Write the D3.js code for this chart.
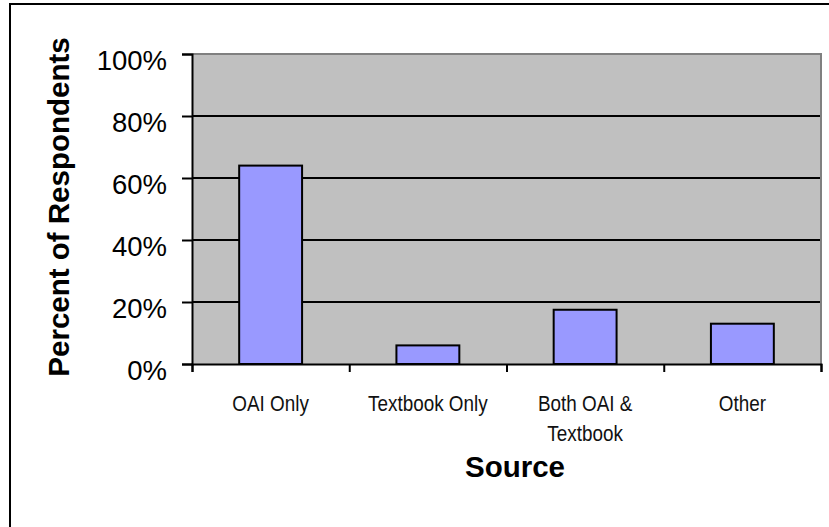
<!DOCTYPE html>
<html>
<head>
<meta charset="utf-8">
<script src="https://d3js.org/d3.v7.min.js"></script>
<style>
  body { margin: 0; background: #fff; }
  svg { display: block; }
</style>
</head>
<body>
<div id="chart"></div>
<script>
// ===========Data
var sources = ["OAI Only", "Textbook Only", "Both OAI & Textbook", "Other"];
var sourceLines = [["OAI Only"], ["Textbook Only"], ["Both OAI &", "Textbook"], ["Other"]];
var percents = [0.64, 0.06, 0.175, 0.13];
var yTicks = [0, 0.2, 0.4, 0.6, 0.8, 1.0];

// ===========Set Height, Width and Margins
var svgWidth = 829;
var svgHeight = 527;
var margin = { top: 54, right: 8, bottom: 163, left: 192 };
var width = svgWidth - margin.left - margin.right;
var height = svgHeight - margin.top - margin.bottom;

var svg = d3.select("#chart").append("svg")
    .attr("width", svgWidth)
    .attr("height", svgHeight);

// outer chart border (right and bottom edges fall outside the picture)
svg.append("rect")
    .attr("x", 10)
    .attr("y", 4)
    .attr("width", 840)
    .attr("height", 540)
    .attr("fill", "none")
    .attr("stroke", "#000")
    .attr("stroke-width", 2);

var chartGroup = svg.append("g")
    .attr("transform", `translate(${margin.left}, ${margin.top})`);

// ===========Scales
var xScale = d3.scaleBand()
    .domain(sources)
    .range([0, width])
    .paddingInner(0.6)
    .paddingOuter(0.3);

var xTickScale = d3.scaleLinear()
    .domain([0, sources.length])
    .range([0, width]);

var yScale = d3.scaleLinear()
    .domain([0, 1])
    .range([height, 0]);

// ===========Plot area
chartGroup.append("rect")
    .attr("width", width)
    .attr("height", height)
    .attr("fill", "#c0c0c0");

// gridlines
chartGroup.selectAll(".grid")
    .data(yTicks.filter(d => d > 0 && d < 1))
    .enter()
    .append("line")
    .attr("x1", 0)
    .attr("x2", width)
    .attr("y1", d => yScale(d))
    .attr("y2", d => yScale(d))
    .attr("stroke", "#000")
    .attr("stroke-width", 2);

// plot border top / right (gray)
chartGroup.append("path")
    .attr("d", `M0,0H${width}V${height}`)
    .attr("fill", "none")
    .attr("stroke", "#808080")
    .attr("stroke-width", 2);

// ===========Bars
chartGroup.selectAll(".bar")
    .data(percents)
    .enter()
    .append("rect")
    .attr("x", (d, i) => xScale(sources[i]))
    .attr("y", d => yScale(d))
    .attr("width", xScale.bandwidth())
    .attr("height", d => height - yScale(d))
    .attr("fill", "#9999ff")
    .attr("stroke", "#000")
    .attr("stroke-width", 2);

// ===========Axes
var leftAxis = d3.axisLeft(yScale)
    .tickValues(yTicks)
    .tickSize(10)
    .tickPadding(15)
    .tickFormat(d3.format(".0%"));

var yAxis = chartGroup.append("g").call(leftAxis);
yAxis.select(".domain").attr("stroke-width", 2);
yAxis.selectAll(".tick line").attr("stroke-width", 2);
yAxis.selectAll(".tick text")
    .attr("font-family", "Arial, 'Liberation Sans', sans-serif")
    .attr("font-size", "27.5px")
    .attr("fill", "#000")
    .attr("dy", "0.55em");

var bottomAxis = d3.axisBottom(xTickScale)
    .tickValues(d3.range(sources.length + 1))
    .tickSize(8)
    .tickFormat("");

var xAxis = chartGroup.append("g")
    .attr("transform", `translate(0, ${height})`)
    .call(bottomAxis);
xAxis.select(".domain").attr("stroke-width", 2);
xAxis.selectAll(".tick line").attr("stroke-width", 2);

// category labels (condensed face, squeezed horizontally)
var catLabels = chartGroup.selectAll(".cat")
    .data(sourceLines)
    .enter()
    .append("text")
    .attr("transform", (d, i) =>
        `translate(${xScale(sources[i]) + xScale.bandwidth() / 2}, ${height + 47}) scale(0.84, 1)`)
    .attr("text-anchor", "middle")
    .attr("font-family", "'Liberation Sans Narrow', 'Arial Narrow', Arial, sans-serif")
    .attr("font-size", "22.5px")
    .attr("fill", "#111");

catLabels.selectAll("tspan")
    .data(d => d)
    .enter()
    .append("tspan")
    .attr("x", 0)
    .attr("dy", (d, i) => i === 0 ? 0 : 30)
    .text(d => d);

// ===========Axis titles
svg.append("text")
    .attr("x", 515)
    .attr("y", 477)
    .attr("text-anchor", "middle")
    .attr("font-family", "Arial, 'Liberation Sans', sans-serif")
    .attr("font-weight", "bold")
    .attr("font-size", "29.5px")
    .text("Source");

svg.append("text")
    .attr("transform", "translate(69, 207) rotate(-90)")
    .attr("text-anchor", "middle")
    .attr("font-family", "Arial, 'Liberation Sans', sans-serif")
    .attr("font-weight", "bold")
    .attr("font-size", "29.5px")
    .text("Percent of Respondents");
</script>
</body>
</html>
